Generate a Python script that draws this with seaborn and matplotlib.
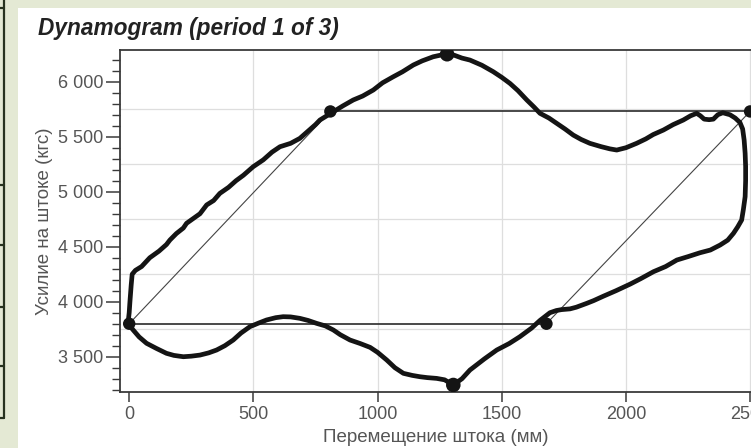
import numpy as np
import pandas as pd
import matplotlib
matplotlib.use("Agg")
import matplotlib.pyplot as plt
from matplotlib.ticker import MultipleLocator, FuncFormatter
from matplotlib.lines import Line2D
from matplotlib.patches import Rectangle
import seaborn as sns

# ---- data ----
loop_x = [-5, 0, 3, 8, 12, 25, 50, 83, 120, 150, 164, 190, 218, 231, 260, 285, 312, 340, 365, 400,
          430, 460, 499, 540, 575, 607, 650, 687, 720, 750, 768, 795, 822, 860, 902, 940, 983, 1020,
          1063, 1100, 1144, 1180, 1224, 1260, 1280, 1310, 1340, 1372, 1420, 1466, 1500, 1533, 1565,
          1601, 1630, 1654, 1690, 1721, 1755, 1788, 1820, 1855, 1900, 1935, 1963, 2000, 2043, 2080,
          2110, 2151, 2190, 2231, 2260, 2285, 2300, 2315, 2335, 2352, 2370, 2390, 2419, 2440, 2459,
          2470, 2476, 2480, 2482, 2482, 2480, 2473, 2466, 2450, 2433, 2410, 2379, 2340, 2298, 2250,
          2205, 2160, 2111, 2060, 2017, 1960, 1909, 1870, 1842, 1800, 1775, 1740, 1720, 1694, 1654,
          1620, 1573, 1530, 1480, 1430, 1372, 1340, 1305, 1270, 1238, 1200, 1171, 1140, 1104, 1070,
          1037, 1000, 970, 930, 889, 850, 822, 790, 755, 720, 687, 650, 620, 590, 553, 520, 486, 450,
          419, 385, 352, 320, 285, 250, 218, 180, 150, 110, 70, 40, 16, -5]
loop_y = [3800, 3900, 4000, 4150, 4250, 4285, 4320, 4400, 4460, 4520, 4561, 4620, 4670, 4713, 4760,
          4800, 4880, 4920, 4985, 5040, 5100, 5150, 5227, 5290, 5360, 5409, 5440, 5485, 5550, 5610,
          5652, 5690, 5727, 5780, 5834, 5870, 5925, 5990, 6045, 6090, 6152, 6190, 6227, 6245, 6250,
          6240, 6215, 6197, 6150, 6091, 6040, 5985, 5920, 5834, 5770, 5713, 5670, 5622, 5570, 5515,
          5475, 5440, 5410, 5390, 5379, 5400, 5440, 5480, 5520, 5561, 5610, 5652, 5690, 5713, 5690,
          5660, 5655, 5660, 5700, 5718, 5700, 5670, 5630, 5570, 5470, 5350, 5230, 5100, 4955, 4840,
          4743, 4680, 4622, 4560, 4515, 4470, 4445, 4410, 4379, 4320, 4273, 4210, 4160, 4100, 4050,
          4010, 3985, 3950, 3935, 3928, 3920, 3900, 3830, 3760, 3682, 3620, 3561, 3480, 3379, 3300,
          3243, 3290, 3303, 3310, 3318, 3330, 3349, 3400, 3470, 3540, 3585, 3620, 3652, 3700, 3743,
          3780, 3803, 3830, 3849, 3862, 3864, 3855, 3834, 3805, 3773, 3715, 3652, 3600, 3561, 3535,
          3515, 3505, 3500, 3512, 3531, 3575, 3622, 3680, 3743, 3800]

# reference polygon (parallelogram) corners
corner_x = [0, 810, 2500, 1680]
corner_y = [3800, 5730, 5730, 3800]
# extreme load points
extreme_x = [1280, 1305]
extreme_y = [6250, 3243]

grid_x = [500, 1000, 1500, 2000, 2500]
grid_y = [3750, 4250, 4750, 5250, 5750]

title = "Dynamogram (period 1 of 3)"
xlabel = "Перемещение штока (мм)"
ylabel = "Усилие на штоке (кгс)"

# ---- style ----
sns.set_style("white")
plt.rcParams['font.family'] = ['Liberation Sans', 'DejaVu Sans']

W, H = 751, 448
fig = plt.figure(figsize=(W / 100, H / 100), dpi=100)
fig.patch.set_facecolor("#e4e9d4")

# white panel of the photographed page
fig.patches.append(Rectangle((18 / W, 0), 1, (H - 8) / H, transform=fig.transFigure,
                             facecolor="white", edgecolor="none", zorder=-10))
# dark table frame at the far left
frame_col = "#27321f"
fig.add_artist(Line2D([3.5 / W, 3.5 / W], [1, 1 - 418 / H], transform=fig.transFigure,
                      color=frame_col, lw=1.6, zorder=-5))
for yy in [8, 185, 245, 307, 366, 418]:
    fig.add_artist(Line2D([0, 3.5 / W], [1 - yy / H, 1 - yy / H], transform=fig.transFigure,
                          color=frame_col, lw=1.6, zorder=-5))

# axes placement (right part runs past the image edge like the photo)
ax_left, ax_right = 120, 765
ax_top, ax_bottom = 50.5, 391.7
ax = fig.add_axes([ax_left / W, 1 - ax_bottom / H, (ax_right - ax_left) / W,
                   (ax_bottom - ax_top) / H])
ax.set_zorder(5)
ax.set_facecolor("white")
ax.set_xlim(-37, 2560)
ax.set_ylim(3182, 6284)

for gx in grid_x:
    ax.axvline(gx, color="#dedede", lw=0.9, zorder=0)
for gy in grid_y:
    ax.axhline(gy, color="#dedede", lw=0.9, zorder=0)

# reference lines of the parallelogram
ax.plot([corner_x[1], corner_x[2]], [corner_y[1], corner_y[2]], color="#2a2a2a", lw=1.2, zorder=2)
ax.plot([corner_x[0], corner_x[3]], [corner_y[0], corner_y[3]], color="#2a2a2a", lw=1.2, zorder=2)
ax.plot([corner_x[0], corner_x[1]], [corner_y[0], corner_y[1]], color="#444444", lw=0.8, zorder=2)
ax.plot([corner_x[3], corner_x[2]], [corner_y[3], corner_y[2]], color="#444444", lw=0.8, zorder=2)

df = pd.DataFrame({"x": loop_x, "y": loop_y})
sns.lineplot(data=df, x="x", y="y", sort=False, estimator=None, color="#141414",
             lw=3.4, ax=ax, zorder=3)

sns.scatterplot(x=corner_x, y=corner_y, s=80, color="#141414", edgecolor="none",
                ax=ax, zorder=4)
sns.scatterplot(x=extreme_x, y=extreme_y, s=110, color="#141414", edgecolor="none",
                ax=ax, zorder=4)

# ticks
ax.xaxis.set_major_locator(MultipleLocator(500))
ax.yaxis.set_major_locator(MultipleLocator(500))
ax.yaxis.set_minor_locator(MultipleLocator(100))
ax.yaxis.set_major_formatter(FuncFormatter(lambda v, p: f"{v:,.0f}".replace(",", " ")))
ax.tick_params(axis="both", which="major", direction="out", colors="#3a3a3a",
               labelcolor="#555555", labelsize=13, width=1.1)
ax.tick_params(axis="y", which="major", length=10, pad=2)
ax.tick_params(axis="x", which="major", length=7, pad=3, bottom=True)
ax.tick_params(axis="y", which="minor", length=6, width=1.0, color="#3a3a3a", left=True)
ax.tick_params(left=True)

for side in ["left", "bottom", "top", "right"]:
    ax.spines[side].set_color("#3a3a3a")
    ax.spines[side].set_linewidth(1.3)

ax.set_xlabel(xlabel, fontsize=13.5, color="#555555", labelpad=3)
ax.set_ylabel(ylabel, fontsize=13.5, color="#555555", labelpad=6)
ax.xaxis.set_label_coords((436 - ax_left) / (ax_right - ax_left), -(437 - ax_bottom) / (ax_bottom - ax_top), transform=ax.transAxes)
ax.yaxis.set_label_coords(-(ax_left - 45) / (ax_right - ax_left), 0.5)
ax.xaxis.label.set_va("center")
ax.yaxis.label.set_va("center")

fig.text(38 / W, 1 - 28 / H, title, fontsize=16.3, fontweight="bold", fontstyle="italic",
         color="#222222", ha="left", va="center")

fig.savefig("out.png", dpi=100, facecolor=fig.get_facecolor())
